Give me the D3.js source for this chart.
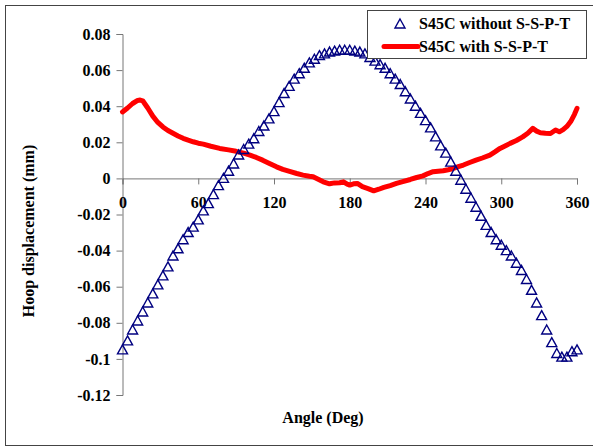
<!DOCTYPE html>
<html>
<head>
<meta charset="utf-8">
<script src="https://cdn.jsdelivr.net/npm/d3@7"></script>
<style>
  body { margin: 0; background: #fff; }
  svg { display: block; font-family: "Liberation Serif", "Times New Roman", serif; font-weight: bold; }
</style>
</head>
<body>
<svg id="chart"></svg>
<script>
// S45C without S-S-P-T (triangles), every 4 deg
const blueAngles = [
  0, 4, 8, 12, 16, 20, 24, 28, 32, 36, 40, 44, 48, 52, 56, 60, 64, 68, 72, 76,
  80, 84, 88, 92, 96, 100, 104, 108, 112, 116, 120, 124, 128, 132, 136, 140, 144, 148, 152, 156,
  160, 164, 168, 172, 176, 180, 184, 188, 192, 196, 200, 204, 208, 212, 216, 220, 224, 228, 232, 236,
  240, 244, 248, 252, 256, 260, 264, 268, 272, 276, 280, 284, 288, 292, 296, 300, 304, 308, 312, 316,
  320, 324, 328, 332, 336, 340, 344, 348, 352, 356, 360
];
const blueValues = [
  -0.095, -0.090, -0.084, -0.079, -0.074, -0.069, -0.064, -0.059, -0.054, -0.049,
  -0.043, -0.039, -0.034, -0.030, -0.027, -0.023, -0.018, -0.014, -0.009, -0.004,
  0.000, 0.004, 0.008, 0.013, 0.016, 0.019, 0.022, 0.026, 0.029, 0.033,
  0.037, 0.042, 0.047, 0.051, 0.055, 0.058, 0.061, 0.064, 0.066, 0.068,
  0.069, 0.070, 0.0705, 0.071, 0.071, 0.071, 0.0705, 0.070, 0.069, 0.067,
  0.065, 0.063, 0.061, 0.058, 0.055, 0.052, 0.048, 0.044, 0.040, 0.036,
  0.032, 0.028, 0.023, 0.018, 0.014, 0.009, 0.004, -0.001, -0.006, -0.011,
  -0.016, -0.021, -0.026, -0.030, -0.034, -0.037, -0.040, -0.043, -0.047, -0.051,
  -0.056, -0.062, -0.069, -0.076, -0.084, -0.091, -0.097, -0.099, -0.099, -0.096,
  -0.095
];

// S45C with S-S-P-T (red line)
const redAngles = [
  0, 4, 8, 12, 14, 16, 20, 24, 28, 32, 36, 40, 44, 48, 52, 56, 60, 64, 70, 77,
  84, 90, 96, 101, 106, 111, 116, 122, 127, 133, 138, 143, 148, 151, 155, 159, 164, 168, 172, 175,
  178, 180, 183, 186, 190, 195, 199, 203, 207, 212, 217, 222, 228, 233, 238, 242, 246, 250, 254, 258,
  262, 266, 270, 275, 280, 285, 291, 295, 299, 303, 307, 312, 317, 321, 325, 328, 331, 335, 339, 343,
  346, 349, 352, 355, 358, 360
];
const redValues = [
  0.0368, 0.039, 0.0415, 0.0432, 0.0434, 0.043, 0.039, 0.0345, 0.031, 0.0285,
  0.0265, 0.025, 0.0235, 0.0222, 0.0212, 0.0203, 0.0195, 0.019, 0.0178, 0.0166,
  0.0158, 0.015, 0.014, 0.0129, 0.0116, 0.0101, 0.0084, 0.0064, 0.005, 0.0037,
  0.0027, 0.0018, 0.0012, 0.0009, -0.0005, -0.0019, -0.003, -0.0025, -0.0024, -0.0019,
  -0.0032, -0.0037, -0.003, -0.0028, -0.0046, -0.0058, -0.0069, -0.006, -0.005, -0.004,
  -0.0028, -0.0018, -0.0006, 0.0005, 0.0014, 0.0027, 0.0037, 0.004, 0.0042, 0.0048,
  0.0055, 0.0065, 0.0074, 0.0088, 0.0101, 0.0113, 0.0129, 0.0147, 0.0166, 0.018,
  0.0194, 0.021, 0.023, 0.025, 0.0277, 0.0262, 0.0253, 0.025, 0.0249, 0.0268,
  0.0258, 0.027, 0.0288, 0.0315, 0.0355, 0.0388
];

const xTicks = [0, 60, 120, 180, 240, 300, 360];
const yTicks = [0.08, 0.06, 0.04, 0.02, 0, -0.02, -0.04, -0.06, -0.08, -0.1, -0.12];
const yTickLabels = ["0.08", "0.06", "0.04", "0.02", "0", "-0.02", "-0.04", "-0.06", "-0.08", "-0.1", "-0.12"];

const W = 593, H = 447;
const svg = d3.select("#chart").attr("width", W).attr("height", H);

// outer frame
svg.append("rect")
  .attr("x", 5.5).attr("y", 5.5)
  .attr("width", 620).attr("height", 440)
  .attr("fill", "none").attr("stroke", "#444").attr("stroke-width", 1);

const x = d3.scaleLinear().domain([0, 360]).range([122.5, 577]);
const y = d3.scaleLinear().domain([-0.12, 0.08]).range([395, 34]);

const axisColor = "#777";

// y axis
const yAxis = svg.append("g")
  .attr("transform", `translate(${x(0)},0)`)
  .call(d3.axisLeft(y).tickValues(yTicks).tickSize(6).tickPadding(6)
    .tickFormat((d, i) => yTickLabels[i]));
yAxis.select(".domain").attr("stroke", axisColor);
yAxis.selectAll(".tick line").attr("stroke", axisColor);
yAxis.selectAll("text")
  .attr("font-family", "Liberation Serif").attr("font-weight", "bold")
  .attr("font-size", 16).attr("fill", "#000");

// x axis at y = 0
const xAxis = svg.append("g")
  .attr("transform", `translate(0,${y(0)})`)
  .call(d3.axisBottom(x).tickValues(xTicks).tickSize(6).tickPadding(12));
xAxis.select(".domain").attr("stroke", axisColor);
xAxis.selectAll(".tick line").attr("stroke", axisColor);
xAxis.selectAll("text")
  .attr("font-family", "Liberation Serif").attr("font-weight", "bold")
  .attr("font-size", 16).attr("fill", "#000");

// axis titles
svg.append("text")
  .attr("x", 323).attr("y", 423)
  .attr("text-anchor", "middle").attr("font-size", 16)
  .text("Angle (Deg)");
svg.append("text")
  .attr("transform", "translate(34,231) rotate(-90)")
  .attr("text-anchor", "middle").attr("font-size", 16)
  .text("Hoop displacement (mm)");

// red series
const redData = redAngles.map((a, i) => [a, redValues[i]]);
svg.append("path")
  .datum(redData)
  .attr("fill", "none")
  .attr("stroke", "#ff0000")
  .attr("stroke-width", 5)
  .attr("stroke-linejoin", "round")
  .attr("stroke-linecap", "round")
  .attr("d", d3.line().x(d => x(d[0])).y(d => y(d[1])));

// triangle markers
const tri = "M0,-5L5,4L-5,4Z";
svg.append("g")
  .selectAll("path")
  .data(blueAngles.map((a, i) => [a, blueValues[i]]))
  .join("path")
  .attr("transform", d => `translate(${x(d[0])},${y(d[1])})`)
  .attr("d", tri)
  .attr("fill", "none")
  .attr("stroke", "#000080")
  .attr("stroke-width", 1.4);

// legend
const lg = svg.append("g");
lg.append("rect")
  .attr("x", 367.5).attr("y", 10.5)
  .attr("width", 219).attr("height", 48)
  .attr("fill", "#fff").attr("stroke", "#444");
lg.append("path")
  .attr("transform", "translate(400,24)")
  .attr("d", tri)
  .attr("fill", "none").attr("stroke", "#000080").attr("stroke-width", 1.4);
lg.append("text")
  .attr("x", 419).attr("y", 29).attr("font-size", 16)
  .text("S45C without S-S-P-T");
lg.append("line")
  .attr("x1", 384).attr("x2", 418).attr("y1", 46.5).attr("y2", 46.5)
  .attr("stroke", "#ff0000").attr("stroke-width", 5).attr("stroke-linecap", "round");
lg.append("text")
  .attr("x", 419).attr("y", 52).attr("font-size", 16)
  .text("S45C with S-S-P-T");
</script>
</body>
</html>
